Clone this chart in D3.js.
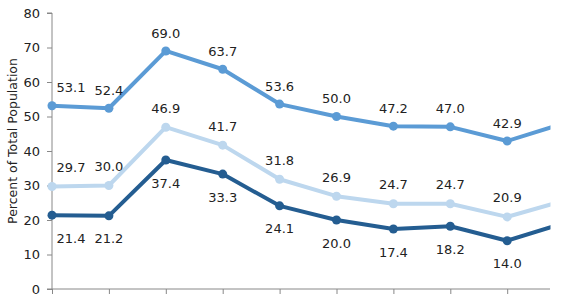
<!DOCTYPE html>
<html><head><meta charset="utf-8">
<script src="https://cdn.jsdelivr.net/npm/d3@7"></script>
<style>body{margin:0;background:#fff}svg{display:block}text{font-family:Verdana,"DejaVu Sans",sans-serif;fill:#222}</style>
</head><body>
<script>
const categories = ["P1","P2","P3","P4","P5","P6","P7","P8","P9","P10"];
const seriesTop = [53.1, 52.4, 69.0, 63.7, 53.6, 50.0, 47.2, 47.0, 42.9, 48.0];
const seriesMid = [29.7, 30.0, 46.9, 41.7, 31.8, 26.9, 24.7, 24.7, 20.9, 25.6];
const seriesLow = [21.4, 21.2, 37.4, 33.3, 24.1, 20.0, 17.4, 18.2, 14.0, 19.1];
const yTicks = [0, 10, 20, 30, 40, 50, 60, 70, 80];
const yTitle = "Percent of Total Population";

const W = 568, H = 297;
const mLeft = 52, mRight = 550, mTop = 13, mBottom = 289;
const svg = d3.select("body").append("svg").attr("width", W).attr("height", H);

const x = d3.scalePoint().domain(categories).range([mLeft, mLeft + 9 * 56.9]);
const y = d3.scaleLinear().domain([0, 80]).range([mBottom, mTop]);

// axes
const yAxis = svg.append("g").attr("transform", `translate(${mLeft},0)`)
  .call(d3.axisLeft(y).tickValues(yTicks).tickSize(5).tickPadding(7).tickFormat(d3.format("d")));
yAxis.select(".domain").attr("stroke", "#888").attr("d", `M-5,${mBottom}H0V${mTop}H-5`);
yAxis.selectAll(".tick line").attr("stroke", "#888");
yAxis.selectAll(".tick text").attr("font-size", 13).style("fill", "#222");

const xAxis = svg.append("g").attr("transform", `translate(0,${mBottom})`)
  .call(d3.axisBottom(x).tickSize(5).tickFormat(""));
xAxis.select(".domain").attr("stroke", "#888").attr("d", `M${mLeft},0H${mRight}`);
xAxis.selectAll(".tick line").attr("stroke", "#888");
xAxis.selectAll(".tick").filter(d => x(d) > mRight).remove();

svg.append("text").attr("transform", `translate(17,${(mTop + mBottom) / 2 - 10}) rotate(-90)`)
  .attr("text-anchor", "middle").attr("font-size", 12.5).text(yTitle);

// inner svg clips the plot at the right edge of the x axis
const g = svg.append("svg").attr("x", 0).attr("y", 0)
  .attr("width", mRight + 0.5).attr("height", H).style("overflow", "hidden");
const series = [
  {vals: seriesTop, color: "#5b9bd5", dy: -18},
  {vals: seriesMid, color: "#bdd7ee", dy: -19},
  {vals: seriesLow, color: "#245d91", dy: 23}
];
const line = d3.line().x((d, i) => x(categories[i])).y(d => y(d));
series.forEach(s => {
  g.append("path").attr("d", line(s.vals)).attr("fill", "none")
    .attr("stroke", s.color).attr("stroke-width", 4).attr("stroke-linejoin", "round");
  g.selectAll(null).data(s.vals).enter().append("circle")
    .attr("cx", (d, i) => x(categories[i])).attr("cy", d => y(d)).attr("r", 4.5).attr("fill", s.color);
  g.selectAll(null).data(s.vals.filter((d, i) => x(categories[i]) < mRight)).enter().append("text")
    .attr("x", (d, i) => i === 0 ? x(categories[i]) + 19 : x(categories[i]))
    .attr("y", d => y(d) + s.dy).attr("dy", "0.35em")
    .attr("text-anchor", "middle").attr("font-size", 13)
    .text(d => d3.format(".1f")(d));
});
</script>
</body></html>
